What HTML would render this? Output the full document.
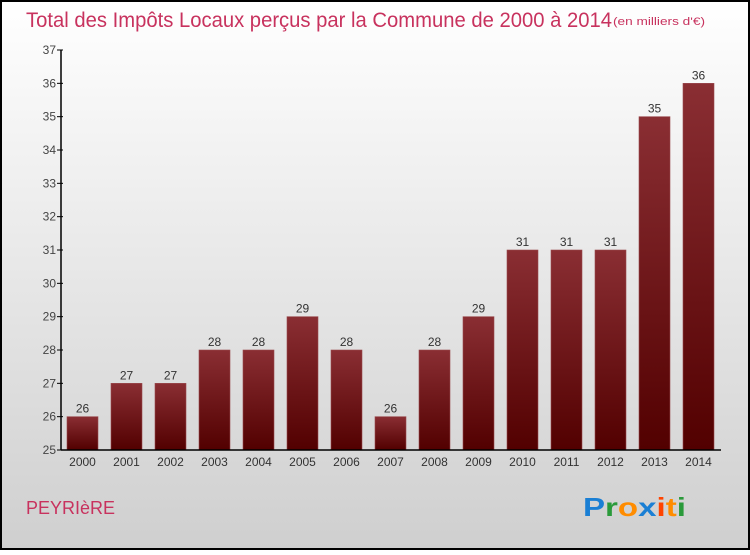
<!DOCTYPE html>
<html><head><meta charset="utf-8"><style>
body{margin:0;width:750px;height:550px;overflow:hidden;font-family:"Liberation Sans",sans-serif}
</style></head><body>
<svg width="750" height="550" xmlns="http://www.w3.org/2000/svg" font-family="'Liberation Sans',sans-serif">
<defs>
<linearGradient id="bg" x1="0" y1="0" x2="0" y2="1"><stop offset="0" stop-color="#ffffff"/><stop offset="1" stop-color="#cfcfcf"/></linearGradient>
<linearGradient id="bar" x1="0" y1="0" x2="0" y2="1"><stop offset="0" stop-color="#8a2e33"/><stop offset="1" stop-color="#520000"/></linearGradient>
</defs>
<rect x="1" y="1" width="748" height="548" fill="url(#bg)" stroke="#000" stroke-width="2"/>
<text x="26" y="27" font-size="21" fill="#c8325e" textLength="586" lengthAdjust="spacingAndGlyphs">Total des Impôts Locaux perçus par la Commune de 2000 à 2014</text>
<text x="613" y="25" font-size="11" fill="#c8325e" textLength="92" lengthAdjust="spacingAndGlyphs">(en milliers d'€)</text>
<g id="plot"></g>
<text x="26" y="514" font-size="18" fill="#c8325e">PEYRIèRE</text>
<g font-size="26" font-weight="bold">
<text x="583" y="516" fill="#1a7fd4" textLength="103" lengthAdjust="spacingAndGlyphs">P<tspan fill="#2a9a3a">r</tspan><tspan fill="#ff8c00">o</tspan><tspan fill="#1a7fd4">x</tspan><tspan fill="#ff4400">i</tspan><tspan fill="#ff8c00">t</tspan><tspan fill="#2a9a3a">i</tspan></text>
</g>
</svg>
<script>
const years=["2000","2001","2002","2003","2004","2005","2006","2007","2008","2009","2010","2011","2012","2013","2014"];
const values=[26,27,27,28,28,29,28,26,28,29,31,31,31,35,36];
const yTicks=[25,26,27,28,29,30,31,32,33,34,35,36,37];
const NS="http://www.w3.org/2000/svg",g=document.getElementById('plot');
const x0=61,x1=721,yTop=50,yBot=450,vmin=25,vmax=37;
const y=v=>yBot-(v-vmin)/(vmax-vmin)*(yBot-yTop);
const pitch=(x1-x0)/years.length;
const xc=i=>x0+pitch*(i+0.5)-0.5;
function el(t,a,txt){const e=document.createElementNS(NS,t);for(const k in a)e.setAttribute(k,a[k]);if(txt!==undefined)e.textContent=txt;g.appendChild(e);return e;}
yTicks.forEach(v=>{
 const l=el('line',{x1:x0-4,x2:x0+2,y1:y(v),y2:y(v),stroke:'#000'});
 
 
 const t=el('text',{x:x0-5,y:y(v)+4,'text-anchor':'end','font-size':12,fill:'#444'},v);
 
 
});
values.forEach((v,i)=>{
 const r=el('rect',{x:xc(i)-15.5,y:y(v),width:31,height:yBot-y(v),fill:'url(#bar)',stroke:'#9a4a4e','stroke-width':0.6});
 
 
 const t=el('text',{x:xc(i),y:y(v)-4,'text-anchor':'middle','font-size':12,fill:'#333'},v);
 
 
 const xl=el('text',{x:xc(i),y:yBot+16,'text-anchor':'middle','font-size':12,fill:'#333'},years[i]);
 
 
});
const ya=el('line',{x1:x0,x2:x0,y1:yTop,y2:yBot,stroke:'#000','stroke-width':1.5});


const xa=el('line',{x1:x0,x2:x1,y1:yBot,y2:yBot,stroke:'#000','stroke-width':1.5});


</script>
</body></html>
